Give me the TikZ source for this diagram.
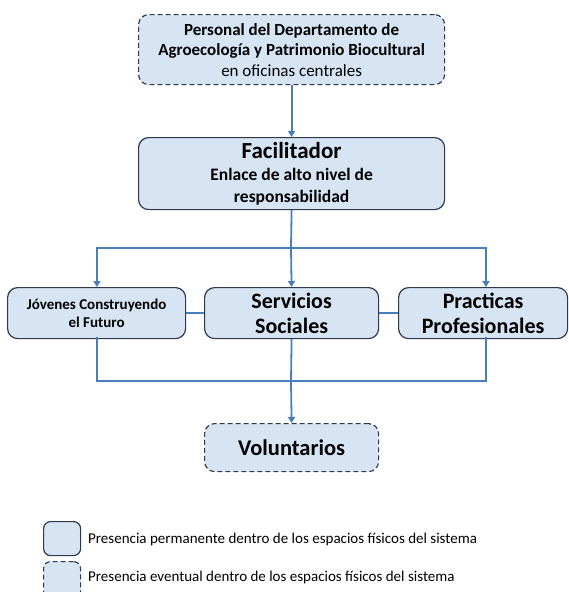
\documentclass[tikz,border=0pt]{standalone}
\usepackage{fontspec}
\setmainfont{Carlito}
\usetikzlibrary{arrows.meta}
\definecolor{boxfill}{HTML}{D6E4F3}
\definecolor{boxline}{HTML}{2E3A4C}
\definecolor{connc}{HTML}{4A7EBB}
\tikzset{
  box/.style={draw=boxline, fill=boxfill, line width=1.2pt, rounded corners=10pt,
    inner sep=0pt, align=center, anchor=north west},
  dashbox/.style={box, dash pattern=on 5pt off 3pt},
  conn/.style={draw=connc, line width=1.8pt},
  arr/.style={conn, -{Triangle[length=6pt,width=7pt]}},
  fsmall/.style={font=\fontsize{17}{20.5}\selectfont\bfseries},
  fbig/.style={font=\fontsize{22}{25}\selectfont\bfseries},
  fjov/.style={font=\fontsize{15}{18}\selectfont\bfseries},
  flegend/.style={font=\fontsize{15}{17}\selectfont, anchor=west, inner sep=0pt}
}
\begin{document}
\begin{tikzpicture}[x=1pt,y=-1pt]
\clip (0,0) rectangle (568,592);
\useasboundingbox (0,0) rectangle (568,592);

\node[dashbox, fsmall, minimum width=306pt, minimum height=70pt] (top) at (138,14)
  {Personal del Departamento de\\Agroecología y Patrimonio Biocultural\\\mdseries en oficinas centrales};

\node[box, font=\fontsize{17.5}{22}\selectfont\bfseries, minimum width=306pt, minimum height=72pt] (fac) at (138,137)
  {\fontsize{23}{22}\selectfont Facilitador\\\fontsize{17.5}{22}\selectfont Enlace de alto nivel de\\responsabilidad};

\node[box, fjov, minimum width=178pt, minimum height=51pt] (jov) at (7,287)
  {Jóvenes Construyendo\\el Futuro};
\node[box, fbig, minimum width=174pt, minimum height=51pt] (serv) at (204,287)
  {Servicios\\Sociales};
\node[box, fbig, minimum width=169pt, minimum height=51pt] (prac) at (398,287)
  {Practicas\\Profesionales};

\node[dashbox, font=\fontsize{22.5}{25}\selectfont\bfseries, minimum width=174pt, minimum height=48pt] (vol) at (204,423)
  {Voluntarios};

% connector coordinates
\coordinate (split) at (291,248);
\coordinate (jtop) at (97,287);
\coordinate (ptop) at (486,287);
\coordinate (jbot) at (97,337);
\coordinate (pbot) at (486,337);
\coordinate (merge) at (291,381);

\draw[arr] (top.south) -- (fac.north);
\draw[conn] (fac.south) -- (split);
\draw[arr] (split) -| (jtop);
\draw[arr] (split) -| (ptop);
\draw[arr] (split) -- (serv.north);

\draw[conn] (jov.east) -- (serv.west);
\draw[conn] (serv.east) -- (prac.west);

\draw[conn] (jbot) |- (merge);
\draw[conn] (pbot) |- (merge);
\draw[conn] (serv.south) -- (merge);
\draw[arr] (merge) -- (vol.north);

% legend
\node[box, minimum width=37pt, minimum height=34pt, rounded corners=7pt] (lg1) at (43,521) {};
\node[dashbox, minimum width=37pt, minimum height=40pt, rounded corners=7pt] (lg2) at (43,561) {};
\node[flegend] (lt1) at (88,539) {Presencia permanente dentro de los espacios físicos del sistema};
\node[flegend] (lt2) at (88,577) {Presencia eventual dentro de los espacios físicos del sistema};
\end{tikzpicture}
\end{document}
